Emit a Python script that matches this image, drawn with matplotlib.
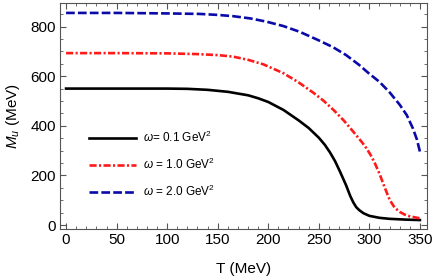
import numpy as np
import matplotlib
matplotlib.use("Agg")
import matplotlib.pyplot as plt
from matplotlib.ticker import MultipleLocator

plt.rcParams['font.family'] = ['Liberation Sans', 'DejaVu Sans']
plt.rcParams['mathtext.fontset'] = 'custom'
plt.rcParams['mathtext.rm'] = 'Liberation Sans'
plt.rcParams['mathtext.it'] = 'Liberation Sans:italic'

# values
T_01 = [0, 50, 100, 120, 140, 160, 180, 190, 200, 215, 230, 240, 250, 256, 261, 266, 271, 277, 281, 284, 287, 290, 294, 300, 310, 320, 335, 350]
M_01 = [550, 550, 550, 549, 545, 537, 523, 511, 496, 464, 422, 391, 352, 323, 293, 258, 215, 160, 118, 92, 72, 60, 48, 37, 29, 25, 22, 20]

T_10 = [0, 50, 100, 130, 150, 165, 180, 195, 215, 230, 245, 255, 265, 275, 287, 293, 297, 301, 305, 310, 315, 320, 325, 330, 335, 340, 350]
M_10 = [693, 693, 692, 689, 685, 679, 666, 648, 612, 575, 532, 500, 462, 420, 362, 332, 310, 284, 253, 207, 153, 102, 70, 53, 42, 35, 27]

T_20 = [0, 50, 100, 132, 150, 165, 182, 198, 215, 231, 248, 264, 277, 290, 299, 310, 320, 330, 337, 343, 347, 350]
M_20 = [855, 855, 853, 851, 847, 842, 833, 820, 802, 779, 748, 717, 685, 645, 613, 577, 535, 485, 443, 390, 345, 296]

labels = [r'$\omega$= 0.1 GeV$^2$', r'$\omega$ = 1.0 GeV$^2$', r'$\omega$ = 2.0 GeV$^2$']

fig = plt.figure(figsize=(4.36, 2.8), dpi=100)
ax = fig.add_axes([60/436, 51/280, 367/436, 226/280])

ax.plot(T_01, M_01, color='black', lw=1.9, label=labels[0])
ax.plot(T_10, M_10, color='#ff1a1a', lw=1.9, dashes=(2.7, 0.9, 0.8, 0.9), label=labels[1])
ax.plot(T_20, M_20, color='#0a0aa8', lw=1.9, dashes=(3.3, 1.2), label=labels[2])

ax.set_xlim(-6, 357)
ax.set_ylim(-16, 895)
ax.xaxis.set_major_locator(MultipleLocator(50))
ax.xaxis.set_minor_locator(MultipleLocator(10))
ax.yaxis.set_major_locator(MultipleLocator(200))
ax.yaxis.set_minor_locator(MultipleLocator(50))
ax.tick_params(which='both', direction='in', top=True, right=True, color='#555555', labelsize=11, pad=3)
ax.tick_params(which='major', length=4, width=0.8)
ax.tick_params(which='minor', length=2.2, width=0.6)
for s in ax.spines.values():
    s.set_color('#555555')
    s.set_linewidth(0.8)

ax.set_xlabel('T (MeV)', fontsize=11, labelpad=11)
ax.set_ylabel(r'$M_u$ (MeV)', fontsize=11, labelpad=6)

ax.legend(loc='lower left', bbox_to_anchor=(0.05, 0.085), frameon=False, fontsize=8.5,
          handlelength=4.0, handletextpad=0.6, labelspacing=1.0)

fig.savefig('out.png', dpi=100)
